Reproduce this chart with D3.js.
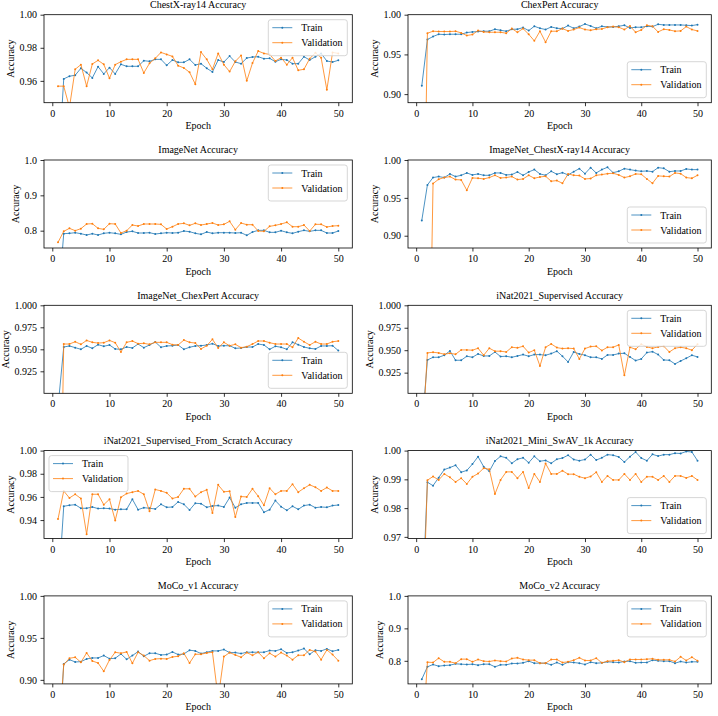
<!DOCTYPE html>
<html>
<head>
<meta charset="utf-8">
<script src="https://cdn.jsdelivr.net/npm/d3@7"></script>
<style>
body { margin: 0; background: #fff; }
svg { display: block; font-family: "Liberation Serif", "Times New Roman", serif; }
</style>
</head>
<body>
<svg id="fig" width="718" height="716"></svg>
<script>
var epochs = d3.range(1, 51);
var xTicks = [0, 10, 20, 30, 40, 50];

// values, one array per curve (epochs 1..50)
var chestxTrain = [0.9036, 0.9612, 0.9628, 0.9634, 0.9676, 0.965, 0.9618, 0.9686, 0.9642, 0.968,
  0.9642, 0.970, 0.9688, 0.9688, 0.9688, 0.9722, 0.9718, 0.973, 0.973, 0.9694,
  0.9726, 0.9712, 0.9712, 0.973, 0.9696, 0.9704, 0.9676, 0.9654, 0.9726, 0.9714,
  0.975, 0.9714, 0.9704, 0.9738, 0.9744, 0.9746, 0.9734, 0.9736, 0.9716, 0.973,
  0.9726, 0.9704, 0.9704, 0.9746, 0.9726, 0.9746, 0.9766, 0.972, 0.9714, 0.9724];
var chestxVal = [0.9568, 0.9568, 0.944, 0.967, 0.9698, 0.9568, 0.9702, 0.9724, 0.970, 0.9616,
  0.9698, 0.9716, 0.973, 0.973, 0.973, 0.9648, 0.9706, 0.9736, 0.9772, 0.976,
  0.9748, 0.9692, 0.9678, 0.9652, 0.958, 0.9774, 0.973, 0.967, 0.9766, 0.9698,
  0.9656, 0.9718, 0.9754, 0.960, 0.9708, 0.978, 0.9766, 0.976, 0.972, 0.974,
  0.9698, 0.974, 0.9664, 0.967, 0.9734, 0.977, 0.974, 0.9546, 0.9772, 0.9766];

var chexTrain = [0.9104, 0.9688, 0.9725, 0.9754, 0.975, 0.9754, 0.9754, 0.9754, 0.9775, 0.9783,
  0.9788, 0.9792, 0.9792, 0.9817, 0.9804, 0.9792, 0.9817, 0.9817, 0.9838, 0.98,
  0.9854, 0.9829, 0.9813, 0.9846, 0.9829, 0.9825, 0.9863, 0.9829, 0.985, 0.9883,
  0.9858, 0.9829, 0.9854, 0.9846, 0.9846, 0.9854, 0.9867, 0.9833, 0.9842, 0.9842,
  0.9854, 0.985, 0.9879, 0.9871, 0.9871, 0.9871, 0.9871, 0.9867, 0.9863, 0.9875];
var chexVal = [0.55, 0.9767, 0.9792, 0.9788, 0.9788, 0.9788, 0.9792, 0.9771, 0.9738, 0.975,
  0.98, 0.9783, 0.9779, 0.9779, 0.9779, 0.9767, 0.9825, 0.9779, 0.9825, 0.9754,
  0.9671, 0.9792, 0.9654, 0.9792, 0.9792, 0.9825, 0.9796, 0.9813, 0.9838, 0.9813,
  0.9804, 0.9817, 0.9821, 0.9842, 0.985, 0.9842, 0.9813, 0.9858, 0.9779, 0.9808,
  0.9867, 0.9854, 0.9783, 0.9817, 0.9808, 0.9792, 0.9796, 0.985, 0.9813, 0.9796];

var imagenetTrain = [0.59, 0.7915, 0.7925, 0.7943, 0.7915, 0.7877, 0.7915, 0.7877, 0.7925, 0.7943,
  0.7925, 0.7896, 0.7962, 0.7981, 0.7934, 0.7934, 0.7943, 0.7906, 0.7925, 0.7943,
  0.7934, 0.7943, 0.799, 0.7972, 0.7925, 0.7896, 0.7962, 0.7925, 0.7943, 0.7943,
  0.7943, 0.7934, 0.7943, 0.7868, 0.7962, 0.8009, 0.8009, 0.7953, 0.7953, 0.80,
  0.7953, 0.7925, 0.7972, 0.8009, 0.7981, 0.8009, 0.8009, 0.7934, 0.7934, 0.799];
var imagenetVal = [0.767, 0.7981, 0.8066, 0.80, 0.8057, 0.8189, 0.8198, 0.8066, 0.8038, 0.8198,
  0.8189, 0.7934, 0.80, 0.816, 0.8132, 0.8189, 0.8189, 0.8189, 0.8179, 0.8047,
  0.8113, 0.8189, 0.8208, 0.8151, 0.8208, 0.816, 0.8189, 0.8217, 0.816, 0.8179,
  0.8264, 0.8028, 0.8217, 0.817, 0.817, 0.799, 0.7981, 0.8123, 0.8151, 0.8189,
  0.8236, 0.8113, 0.8113, 0.816, 0.799, 0.8179, 0.8179, 0.8104, 0.8132, 0.8142];

var inChestTrain = [0.9202, 0.9671, 0.9768, 0.9781, 0.9768, 0.9816, 0.9781, 0.9798, 0.9829, 0.9803,
  0.9816, 0.9798, 0.9798, 0.9829, 0.9829, 0.9803, 0.9807, 0.9842, 0.9798, 0.9842,
  0.9873, 0.9816, 0.9798, 0.9851, 0.9812, 0.9833, 0.9803, 0.9846, 0.9886, 0.982,
  0.9899, 0.9829, 0.9873, 0.9904, 0.9833, 0.9851, 0.9886, 0.9873, 0.986, 0.9851,
  0.9855, 0.9846, 0.9899, 0.989, 0.9846, 0.9855, 0.9855, 0.9882, 0.9873, 0.9873];
var inChestVal = [0.50, 0.54, 0.9689, 0.9746, 0.9768, 0.9781, 0.9741, 0.9737, 0.9601, 0.9763,
  0.9759, 0.975, 0.9768, 0.9798, 0.9763, 0.9768, 0.9781, 0.9741, 0.975, 0.9798,
  0.9759, 0.9776, 0.9785, 0.972, 0.9728, 0.9693, 0.9816, 0.9798, 0.9794, 0.975,
  0.9755, 0.9798, 0.9807, 0.982, 0.9825, 0.9803, 0.9768, 0.9785, 0.9816, 0.9812,
  0.975, 0.9693, 0.979, 0.9785, 0.9781, 0.9829, 0.982, 0.9768, 0.9759, 0.9798];

var inChexTrain = [0.884, 0.9526, 0.9538, 0.9519, 0.95, 0.9538, 0.9511, 0.9553, 0.9534, 0.9549,
  0.9504, 0.95, 0.9526, 0.9515, 0.956, 0.9519, 0.9549, 0.9583, 0.9523, 0.9538,
  0.9541, 0.9549, 0.95, 0.9523, 0.9538, 0.9541, 0.9549, 0.9564, 0.9538, 0.9541,
  0.9541, 0.9511, 0.9515, 0.9526, 0.9526, 0.956, 0.9549, 0.95, 0.9534, 0.9523,
  0.95, 0.9579, 0.9553, 0.9526, 0.9511, 0.9504, 0.9538, 0.9538, 0.9541, 0.9485];
var inChexVal = [0.58, 0.956, 0.956, 0.9586, 0.9556, 0.9601, 0.9579, 0.9571, 0.9575, 0.9601,
  0.9575, 0.947, 0.9579, 0.9594, 0.9564, 0.9568, 0.9556, 0.9579, 0.9579, 0.9579,
  0.9553, 0.9549, 0.9605, 0.9579, 0.9571, 0.9504, 0.9541, 0.9613, 0.9515, 0.9579,
  0.9541, 0.9556, 0.9519, 0.953, 0.956, 0.9594, 0.9594, 0.9575, 0.956, 0.956,
  0.956, 0.9523, 0.9628, 0.9586, 0.9549, 0.9586, 0.956, 0.956, 0.9586, 0.9594];

var inatSupTrain = [0.86, 0.9391, 0.9421, 0.9421, 0.9444, 0.9492, 0.9388, 0.9388, 0.9433, 0.9421,
  0.9459, 0.9436, 0.9436, 0.948, 0.9429, 0.9433, 0.9421, 0.9436, 0.9451, 0.9433,
  0.9451, 0.9451, 0.9444, 0.9462, 0.9489, 0.9433, 0.9369, 0.948, 0.9459, 0.9444,
  0.9421, 0.9421, 0.9403, 0.9447, 0.9447, 0.9462, 0.9466, 0.9425, 0.9384, 0.9403,
  0.9473, 0.9484, 0.9451, 0.9391, 0.9388, 0.9347, 0.938, 0.941, 0.9444, 0.9425];
var inatSupVal = [0.84, 0.947, 0.9477, 0.947, 0.9455, 0.9466, 0.9455, 0.9503, 0.9503, 0.95,
  0.9522, 0.9444, 0.9522, 0.9489, 0.9489, 0.948, 0.9533, 0.9526, 0.9544, 0.9473,
  0.95, 0.9324, 0.9533, 0.957, 0.9529, 0.9518, 0.9522, 0.9518, 0.9403, 0.9518,
  0.954, 0.9544, 0.9496, 0.9533, 0.9533, 0.9559, 0.922, 0.9533, 0.9511, 0.9567,
  0.9537, 0.9522, 0.9537, 0.9544, 0.948, 0.9522, 0.9533, 0.9522, 0.95, 0.9567];

var scratchTrain = [0.875, 0.9519, 0.9528, 0.9533, 0.9502, 0.9502, 0.9513, 0.9499, 0.9502, 0.9499,
  0.949, 0.9493, 0.9493, 0.958, 0.949, 0.9507, 0.9502, 0.9496, 0.9536, 0.951,
  0.9513, 0.9557, 0.9536, 0.9487, 0.9545, 0.9542, 0.951, 0.9522, 0.9525, 0.9513,
  0.9594, 0.9507, 0.9536, 0.9548, 0.9548, 0.9548, 0.9467, 0.949, 0.9568, 0.9516,
  0.9484, 0.9519, 0.9493, 0.9525, 0.9533, 0.9507, 0.9513, 0.951, 0.9525, 0.953];
var scratchVal = [0.9409, 0.9651, 0.9591, 0.9623, 0.9586, 0.9278, 0.9623, 0.9623, 0.9533, 0.958,
  0.9397, 0.9597, 0.9629, 0.9641, 0.9652, 0.9623, 0.9476, 0.9664, 0.9652, 0.9635,
  0.9586, 0.96, 0.967, 0.967, 0.9603, 0.9641, 0.9661, 0.9461, 0.9704, 0.9644,
  0.9649, 0.9426, 0.9603, 0.96, 0.967, 0.9606, 0.9528, 0.9675, 0.9623, 0.9652,
  0.9652, 0.971, 0.9641, 0.9675, 0.9704, 0.9684, 0.9652, 0.9681, 0.9652, 0.9652];

var swavTrain = [0.942, 0.989, 0.9878, 0.9906, 0.9934, 0.9941, 0.9949, 0.9925, 0.9931, 0.9953,
  0.9979, 0.9944, 0.9928, 0.9964, 0.998, 0.9975, 0.9956, 0.997, 0.9975, 0.9958,
  0.998, 0.9963, 0.9966, 0.9956, 0.997, 0.9974, 0.9984, 0.9969, 0.9965, 0.9969,
  0.9986, 0.9967, 0.9975, 0.9986, 0.9984, 0.9978, 0.996, 0.9979, 0.9995, 0.9974,
  0.9965, 0.9987, 0.9981, 0.9986, 0.9986, 0.9991, 0.999, 0.9997, 0.9995, 0.9965];
var swavVal = [0.93, 0.9897, 0.991, 0.9898, 0.9919, 0.9907, 0.9891, 0.9904, 0.9884, 0.9909,
  0.992, 0.9939, 0.9935, 0.9849, 0.9898, 0.9926, 0.9926, 0.9904, 0.9926, 0.987,
  0.9919, 0.9891, 0.9955, 0.9919, 0.9919, 0.993, 0.9918, 0.9918, 0.9909, 0.9904,
  0.991, 0.9925, 0.9891, 0.9912, 0.9898, 0.9898, 0.9919, 0.9898, 0.9919, 0.9891,
  0.9909, 0.9909, 0.9898, 0.9912, 0.9891, 0.9912, 0.9912, 0.9905, 0.9912, 0.9898];

var mocoV1Train = [0.80, 0.919, 0.9241, 0.9213, 0.9217, 0.9249, 0.9261, 0.9261, 0.9289, 0.9253,
  0.9257, 0.9309, 0.9245, 0.9289, 0.9337, 0.9281, 0.9317, 0.9317, 0.9297, 0.9301,
  0.9333, 0.9301, 0.9309, 0.9353, 0.9345, 0.9313, 0.9329, 0.9345, 0.9345, 0.9361,
  0.9325, 0.9325, 0.9313, 0.9329, 0.9329, 0.9329, 0.9329, 0.9349, 0.9345, 0.9365,
  0.9321, 0.9329, 0.9349, 0.9373, 0.9305, 0.9353, 0.9345, 0.9369, 0.9341, 0.9357];
var mocoV1Val = [0.82, 0.9182, 0.9257, 0.9269, 0.9209, 0.9321, 0.9225, 0.9201, 0.9102, 0.9237,
  0.9329, 0.9317, 0.9333, 0.9197, 0.9329, 0.9289, 0.9229, 0.9249, 0.9253, 0.9249,
  0.9273, 0.9281, 0.9317, 0.9201, 0.9305, 0.9305, 0.9321, 0.9329, 0.878, 0.9277,
  0.9325, 0.9297, 0.9269, 0.9325, 0.9293, 0.9329, 0.9257, 0.9317, 0.9277, 0.9325,
  0.9289, 0.9241, 0.9293, 0.9293, 0.9357, 0.9337, 0.9241, 0.9357, 0.9301, 0.9229];

var mocoV2Train = [0.7433, 0.7814, 0.7887, 0.7835, 0.7856, 0.7866, 0.7907, 0.7897, 0.7887, 0.7897,
  0.7866, 0.7897, 0.7897, 0.7814, 0.7876, 0.7876, 0.7918, 0.7918, 0.7938, 0.799,
  0.7928, 0.7928, 0.7928, 0.7876, 0.7948, 0.7876, 0.7959, 0.7948, 0.7928, 0.7887,
  0.7959, 0.7928, 0.7938, 0.7969, 0.7959, 0.7948, 0.7979, 0.799, 0.7938, 0.7948,
  0.7948, 0.8021, 0.80, 0.799, 0.799, 0.7928, 0.7979, 0.7948, 0.7969, 0.7969];
var mocoV2Val = [0.53, 0.7959, 0.7948, 0.8082, 0.7969, 0.7969, 0.7928, 0.8052, 0.8052, 0.7969,
  0.8041, 0.799, 0.7979, 0.801, 0.799, 0.7979, 0.8072, 0.8093, 0.8041, 0.8021,
  0.8021, 0.7928, 0.7928, 0.8041, 0.8041, 0.7948, 0.7969, 0.8021, 0.8093, 0.801,
  0.801, 0.8082, 0.7938, 0.799, 0.80, 0.8021, 0.7959, 0.8041, 0.8041, 0.8041,
  0.8052, 0.8062, 0.8031, 0.8031, 0.8031, 0.7979, 0.8124, 0.801, 0.8113, 0.80];

var titles = ["ChestX-ray14 Accuracy", "ChexPert Accuracy", "ImageNet Accuracy",
  "ImageNet_ChestX-ray14 Accuracy", "ImageNet_ChexPert Accuracy", "iNat2021_Supervised Accuracy",
  "iNat2021_Supervised_From_Scratch Accuracy", "iNat2021_Mini_SwAV_1k Accuracy",
  "MoCo_v1 Accuracy", "MoCo_v2 Accuracy"];
var trainSeries = [chestxTrain, chexTrain, imagenetTrain, inChestTrain, inChexTrain,
  inatSupTrain, scratchTrain, swavTrain, mocoV1Train, mocoV2Train];
var valSeries = [chestxVal, chexVal, imagenetVal, inChestVal, inChexVal,
  inatSupVal, scratchVal, swavVal, mocoV1Val, mocoV2Val];
var yBottoms = [0.9468, 0.8892, 0.751, 0.8838, 0.900, 0.902, 0.924, 0.9694, 0.8952, 0.7289];
var yTickLabels = [
  ["0.96", "0.98", "1.00"], ["0.90", "0.95", "1.00"], ["0.8", "0.9", "1.0"],
  ["0.90", "0.95", "1.00"], ["0.925", "0.950", "0.975", "1.000"], ["0.925", "0.950", "0.975", "1.000"],
  ["0.94", "0.96", "0.98", "1.00"], ["0.97", "0.98", "0.99", "1.00"],
  ["0.90", "0.95", "1.00"], ["0.8", "0.9", "1.0"]];
var legendLoc = ["upper right", "lower right", "upper right", "lower right", "lower right",
  "upper right", "upper left", "lower right", "upper right", "upper right"];

var blue = "#1f77b4", orange = "#ff7f0e";
var colLeft = [44, 408], colRight = [352.3, 711.3];
var rowTop = 14.7, rowStep = 145.3, axH = 88;

var svg = d3.select("#fig");
svg.append("rect").attr("width", 718).attr("height", 716).attr("fill", "#fff");

titles.forEach(function(title, i) {
  var col = i % 2, row = Math.floor(i / 2);
  var x0 = colLeft[col], x1 = colRight[col];
  var y0 = rowTop + row * rowStep, y1 = y0 + axH;

  var x = d3.scaleLinear().domain([-1.45, 52.45]).range([x0, x1]);
  var y = d3.scaleLinear().domain([yBottoms[i], 1]).range([y1, y0]);

  var g = svg.append("g");
  g.append("clipPath").attr("id", "clip" + i)
    .append("rect").attr("x", x0).attr("y", y0).attr("width", x1 - x0).attr("height", y1 - y0);

  var line = d3.line()
    .x(function(d) { return x(d[0]); })
    .y(function(d) { return y(d[1]); });

  var plot = g.append("g").attr("clip-path", "url(#clip" + i + ")");
  [[trainSeries[i], blue], [valSeries[i], orange]].forEach(function(s) {
    var pts = epochs.map(function(e, k) { return [e, s[0][k]]; });
    plot.append("path").datum(pts)
      .attr("d", line)
      .attr("fill", "none")
      .attr("stroke", s[1])
      .attr("stroke-width", 0.8);
    plot.selectAll(null).data(pts).enter().append("circle")
      .attr("cx", function(d) { return x(d[0]); })
      .attr("cy", function(d) { return y(d[1]); })
      .attr("r", 1)
      .attr("fill", s[1]);
  });

  // axes
  var xa = g.append("g").attr("transform", "translate(0," + y1 + ")")
    .call(d3.axisBottom(x).tickValues(xTicks).tickSize(3.5).tickPadding(3.5).tickSizeOuter(0));
  var ya = g.append("g").attr("transform", "translate(" + x0 + ",0)")
    .call(d3.axisLeft(y).tickValues(yTickLabels[i].map(Number))
      .tickFormat(function(d, k) { return yTickLabels[i][k]; })
      .tickSize(3.5).tickPadding(3.5).tickSizeOuter(0));
  [xa, ya].forEach(function(a) {
    a.select(".domain").remove();
    a.attr("font-family", null).attr("font-size", 10);
    a.selectAll(".tick line").attr("stroke", "#000").attr("stroke-width", 0.8);
    a.selectAll(".tick text").attr("fill", "#000");
  });

  g.append("rect")
    .attr("x", x0).attr("y", y0).attr("width", x1 - x0).attr("height", y1 - y0)
    .attr("fill", "none").attr("stroke", "#000").attr("stroke-width", 0.8);

  var cx = (x0 + x1) / 2;
  g.append("text").attr("x", cx).attr("y", y0 - 6.8)
    .attr("text-anchor", "middle").attr("font-size", 10).text(title);
  g.append("text").attr("x", cx).attr("y", y1 + 26.5)
    .attr("text-anchor", "middle").attr("font-size", 10).text("Epoch");
  var bb = ya.node().getBBox();
  var lx = x0 + bb.x - 5.5, ly = (y0 + y1) / 2;
  g.append("text").attr("transform", "translate(" + lx + "," + ly + ") rotate(-90)")
    .attr("text-anchor", "middle").attr("font-size", 10).text("Accuracy");

  // legend
  var bw = 79, bh = 36;
  var loc = legendLoc[i];
  var bx = loc === "upper left" ? x0 + 5 : x1 - 5 - bw;
  var by = loc === "lower right" ? y1 - 5 - bh : y0 + 5;
  var lg = g.append("g").attr("transform", "translate(" + bx + "," + by + ")");
  lg.append("rect").attr("width", bw).attr("height", bh).attr("rx", 2.5)
    .attr("fill", "#fff").attr("fill-opacity", 0.8)
    .attr("stroke", "#cccccc").attr("stroke-opacity", 0.8).attr("stroke-width", 1);
  [["Train", blue, 8], ["Validation", orange, 23]].forEach(function(it) {
    lg.append("line").attr("x1", 4).attr("x2", 24).attr("y1", it[2]).attr("y2", it[2])
      .attr("stroke", it[1]).attr("stroke-width", 0.8);
    lg.append("circle").attr("cx", 14).attr("cy", it[2]).attr("r", 1).attr("fill", it[1]);
    lg.append("text").attr("x", 33).attr("y", it[2] + 3.5).attr("font-size", 10).text(it[0]);
  });
});
</script>
</body>
</html>
